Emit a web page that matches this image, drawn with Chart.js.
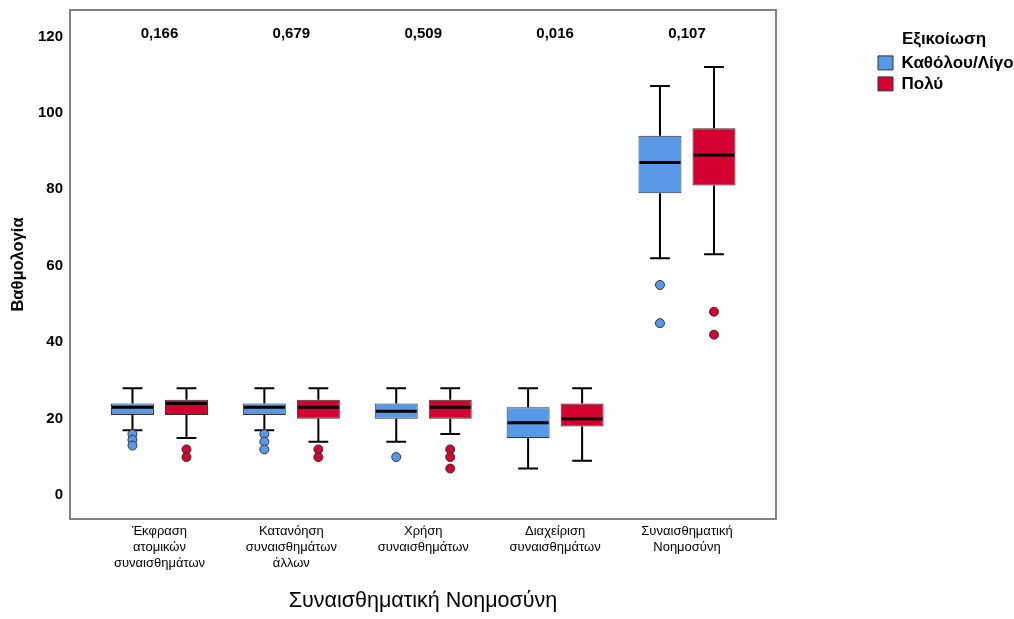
<!DOCTYPE html>
<html>
<head>
<meta charset="utf-8">
<script src="https://cdn.jsdelivr.net/npm/chart.js@4.4.1/dist/chart.umd.min.js"></script>
<style>
  html, body { margin: 0; padding: 0; background: #fff; }
  #wrap { width: 1014px; height: 619px; }
</style>
</head>
<body>
<div id="wrap"><canvas id="chart"></canvas></div>
<script>
// categories on the x axis
const categories = [
  ['Έκφραση', 'ατομικών', 'συναισθημάτων'],
  ['Κατανόηση', 'συναισθημάτων', 'άλλων'],
  ['Χρήση', 'συναισθημάτων'],
  ['Διαχείριση', 'συναισθημάτων'],
  ['Συναισθηματική', 'Νοημοσύνη']
];
const pValues = ['0,166', '0,679', '0,509', '0,016', '0,107'];
const yTicks = [0, 20, 40, 60, 80, 100, 120];

// Καθόλου/Λίγο
const lowMin = [17, 17, 14, 7, 62];
const lowQ1 = [21, 21, 20, 15, 79];
const lowMed = [23, 23, 22, 19, 87];
const lowQ3 = [24, 24, 24, 23, 94];
const lowMax = [28, 28, 28, 28, 107];
const lowOut = [[16, 14.5, 13], [16, 14, 12], [10], [], [55, 45]];

// Πολύ
const highMin = [15, 14, 16, 9, 63];
const highQ1 = [21, 20, 20, 18, 81];
const highMed = [24, 23, 23, 20, 89];
const highQ3 = [25, 25, 25, 24, 96];
const highMax = [28, 28, 28, 28, 112];
const highOut = [[12, 10], [12, 10], [12, 10, 7], [], [48, 42]];

const series = [
  { label: 'Καθόλου/Λίγο', color: '#5799e6', min: lowMin, q1: lowQ1, med: lowMed, q3: lowQ3, max: lowMax, out: lowOut },
  { label: 'Πολύ', color: '#d4002f', min: highMin, q1: highQ1, med: highMed, q3: highQ3, max: highMax, out: highOut }
];

const fontMain = "'Liberation Sans', Arial, sans-serif";

// whiskers, medians, outliers on top of the floating bars
const boxParts = {
  id: 'boxParts',
  afterDatasetsDraw(chart) {
    const ctx = chart.ctx;
    const y = chart.scales.y;
    ctx.save();
    series.forEach((s, d) => {
      const meta = chart.getDatasetMeta(d);
      meta.data.forEach((bar, i) => {
        const x = bar.x;
        const half = bar.width / 2;
        const cap = bar.width * 0.23;
        ctx.strokeStyle = '#000';
        ctx.lineWidth = 2;
        ctx.beginPath();
        ctx.moveTo(x, y.getPixelForValue(s.q3[i]));
        ctx.lineTo(x, y.getPixelForValue(s.max[i]));
        ctx.moveTo(x - cap, y.getPixelForValue(s.max[i]));
        ctx.lineTo(x + cap, y.getPixelForValue(s.max[i]));
        ctx.moveTo(x, y.getPixelForValue(s.q1[i]));
        ctx.lineTo(x, y.getPixelForValue(s.min[i]));
        ctx.moveTo(x - cap, y.getPixelForValue(s.min[i]));
        ctx.lineTo(x + cap, y.getPixelForValue(s.min[i]));
        ctx.stroke();
        ctx.lineWidth = 3;
        ctx.beginPath();
        ctx.moveTo(x - half + 1, y.getPixelForValue(s.med[i]));
        ctx.lineTo(x + half - 1, y.getPixelForValue(s.med[i]));
        ctx.stroke();
        ctx.fillStyle = s.color;
        ctx.strokeStyle = '#333';
        ctx.lineWidth = 1;
        s.out[i].forEach(v => {
          ctx.beginPath();
          ctx.arc(x, y.getPixelForValue(v), 4.5, 0, Math.PI * 2);
          ctx.fill();
          ctx.stroke();
        });
      });
    });
    // p-values above each category
    const xs = chart.scales.x;
    ctx.fillStyle = '#000';
    ctx.font = 'bold 15px ' + fontMain;
    ctx.textAlign = 'center';
    ctx.textBaseline = 'middle';
    pValues.forEach((p, i) => {
      ctx.fillText(p, xs.getPixelForValue(i + 1), chart.chartArea.top + 24);
    });
    // frame
    const a = chart.chartArea;
    ctx.strokeStyle = '#808080';
    ctx.lineWidth = 2;
    ctx.strokeRect(a.left, a.top, a.right - a.left, a.bottom - a.top);
    ctx.restore();
  }
};

// keep a gap between plot and legend
const legendGap = {
  id: 'legendGap',
  beforeInit(chart) {
    const fit = chart.legend.fit;
    chart.legend.fit = function () {
      fit.call(this);
      this.width = 238;
    };
  },
  afterLayout(chart) {
    const shift = 98;
    chart.legend.left += shift;
    chart.legend.width -= shift;
  }
};

new Chart(document.getElementById('chart'), {
  type: 'bar',
  data: {
    datasets: series.map(s => ({
      label: s.label,
      data: categories.map((c, i) => ({ x: i + 1, y: [s.q1[i], s.q3[i]] })),
      backgroundColor: s.color,
      borderColor: '#333',
      borderWidth: 1,
      borderSkipped: false,
      categoryPercentage: 0.819,
      barPercentage: 0.796
    }))
  },
  options: {
    responsive: true,
    maintainAspectRatio: false,
    animation: false,
    layout: { padding: { top: 10, left: 0, right: 0, bottom: 0 } },
    plugins: {
      tooltip: { enabled: false },
      legend: {
        position: 'right',
        align: 'start',
        title: {
          display: true,
          text: 'Εξικοίωση',
          color: '#000',
          font: { family: fontMain, size: 17, weight: 'bold' },
          padding: { top: 21, bottom: -1 }
        },
        labels: {
          color: '#000',
          boxWidth: 15,
          boxHeight: 14,
          padding: 4,
          font: { family: fontMain, size: 17, weight: 'bold' }
        }
      }
    },
    scales: {
      x: {
        type: 'linear',
        min: 0.3215,
        max: 5.675,
        offset: false,
        grid: { display: false, drawTicks: false },
        border: { display: false },
        afterFit(axis) {
          axis.height = 100;
          axis.paddingLeft = 0;
          axis.paddingRight = 0;
        },
        afterBuildTicks(axis) { axis.ticks = categories.map((c, i) => ({ value: i + 1 })); },
        ticks: {
          color: '#000',
          padding: 4,
          maxRotation: 0,
          autoSkip: false,
          font: { family: fontMain, size: 13, lineHeight: 1.23 },
          callback: v => categories[v - 1]
        },
        title: {
          display: true,
          text: 'Συναισθηματική Νοημοσύνη',
          color: '#000',
          font: { family: fontMain, size: 21.5 },
          padding: { top: 0, bottom: 5 }
        }
      },
      y: {
        min: -6.2,
        max: 126.9,
        grid: { display: false, drawTicks: false },
        border: { display: false },
        afterFit(axis) {
          axis.width = 70;
          axis.paddingTop = 0;
          axis.paddingBottom = 0;
        },
        afterBuildTicks(axis) { axis.ticks = yTicks.map(v => ({ value: v })); },
        ticks: {
          color: '#000',
          padding: 7,
          font: { family: fontMain, size: 15, weight: 'bold' }
        },
        title: {
          display: true,
          text: 'Βαθμολογία',
          color: '#000',
          font: { family: fontMain, size: 16.5, weight: 'bold' },
          padding: { top: 9, bottom: 0 }
        }
      }
    }
  },
  plugins: [boxParts, legendGap]
});
</script>
</body>
</html>
